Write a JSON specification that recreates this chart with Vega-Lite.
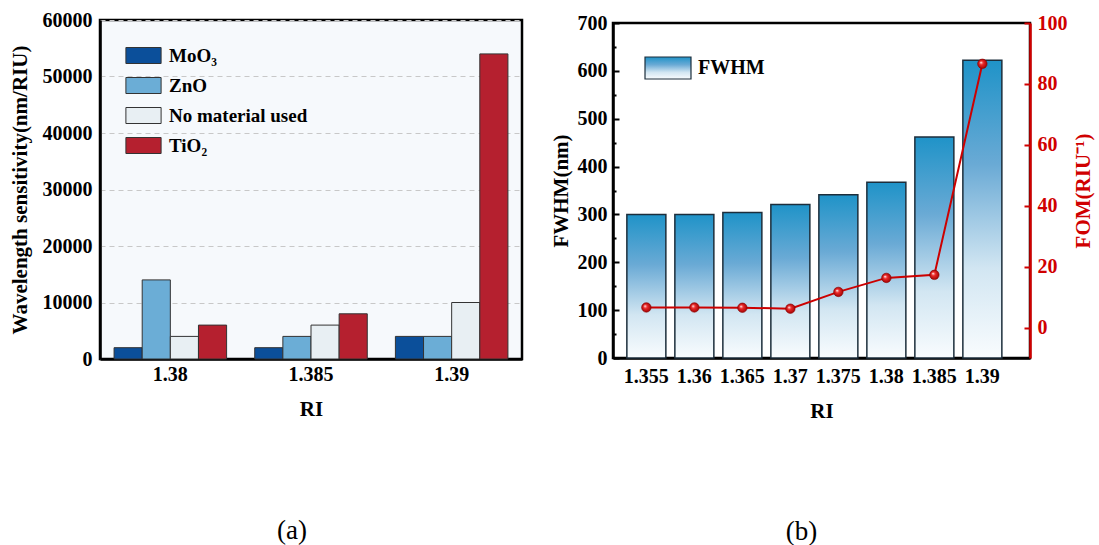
{
  "$schema": "https://vega.github.io/schema/vega-lite/v6.json",
  "padding": {"left": 7, "top": 8, "right": 0, "bottom": 0},
  "spacing": 24,
  "config": {
    "font": "Liberation Serif",
    "axis": {"labelFont": "Liberation Serif", "labelFontWeight": "bold", "labelFontSize": 20, "labelColor": "#000", "titleFont": "Liberation Serif", "titleFontWeight": "bold", "titleFontSize": 21, "titleColor": "#000", "domainColor": "#000", "domainWidth": 2.5, "tickColor": "#000", "tickWidth": 2, "grid": false},
    "legend": {"labelFont": "Liberation Serif", "labelFontWeight": "bold", "labelFontSize": 19, "labelColor": "#000", "padding": 0}
  },
  "hconcat": [
    {
      "width": 422,
      "height": 339,
      "title": {"text": "(a)", "orient": "bottom", "anchor": "middle", "frame": "group", "font": "Liberation Serif", "fontSize": 27, "fontWeight": "normal", "offset": 99, "dx": -19, "color": "#000"},
      "view": {"fill": "#f6f9fc", "stroke": "#000", "strokeWidth": 2.5},
      "data": {"values": [
        {"ri": "1.38", "material": "MoO₃", "value": 2000},
        {"ri": "1.38", "material": "ZnO", "value": 14000},
        {"ri": "1.38", "material": "No material used", "value": 4000},
        {"ri": "1.38", "material": "TiO₂", "value": 6000},
        {"ri": "1.385", "material": "MoO₃", "value": 2000},
        {"ri": "1.385", "material": "ZnO", "value": 4000},
        {"ri": "1.385", "material": "No material used", "value": 6000},
        {"ri": "1.385", "material": "TiO₂", "value": 8000},
        {"ri": "1.39", "material": "MoO₃", "value": 4000},
        {"ri": "1.39", "material": "ZnO", "value": 4000},
        {"ri": "1.39", "material": "No material used", "value": 10000},
        {"ri": "1.39", "material": "TiO₂", "value": 54000}
      ]},
      "mark": {"type": "bar", "stroke": "#333333", "strokeWidth": 1},
      "encoding": {
        "x": {"field": "ri", "type": "nominal", "sort": ["1.38", "1.385", "1.39"], "scale": {"paddingInner": 0.2, "paddingOuter": 0.1},
              "axis": {"title": "RI", "labelAngle": 0, "tickSize": -5, "labelPadding": 10, "titlePadding": 14}},
        "xOffset": {"field": "material", "type": "nominal", "sort": ["MoO₃", "ZnO", "No material used", "TiO₂"], "scale": {"paddingInner": 0, "paddingOuter": 0}},
        "y": {"field": "value", "type": "quantitative", "scale": {"domain": [0, 60000], "nice": false},
              "axis": {"title": "Wavelength sensitivity(nm/RIU)", "values": [0, 10000, 20000, 30000, 40000, 50000, 60000], "format": "d", "ticks": false, "labelPadding": 8, "titlePadding": 12, "grid": true, "gridDash": [5, 4], "gridColor": "#c8c8c8", "gridWidth": 1}},
        "fill": {"field": "material", "type": "nominal", "sort": ["MoO₃", "ZnO", "No material used", "TiO₂"],
                 "scale": {"domain": ["MoO₃", "ZnO", "No material used", "TiO₂"], "range": ["#0b4f9a", "#6badd6", "#e8eff3", "#b5202f"]},
                 "legend": {"title": null, "orient": "none", "legendX": 34, "legendY": 26, "symbolType": "M-2.2,-1H2.2V1H-2.2Z", "symbolSize": 256, "symbolStrokeColor": "#333333", "symbolStrokeWidth": 1, "labelOffset": 16, "rowPadding": 9}}
      }
    },
    {
      "spacing": -10,
      "vconcat": [
        {
          "width": 417,
          "height": 1,
          "data": {"values": [{}]},
          "mark": {"type": "rule", "opacity": 0},
          "encoding": {},
          "view": {"stroke": null}
        },
        {
          "width": 417,
          "height": 335,
          "title": {"text": "(b)", "orient": "bottom", "anchor": "middle", "frame": "group", "font": "Liberation Serif", "fontSize": 27, "fontWeight": "normal", "offset": 98, "dx": -20, "color": "#000"},
          "view": {"fill": "#ffffff", "stroke": "#000", "strokeWidth": 2.5},
          "data": {"values": [
            {"ri": "1.355", "fwhm": 300, "fom": 6.6},
            {"ri": "1.36", "fwhm": 300, "fom": 6.6},
            {"ri": "1.365", "fwhm": 304, "fom": 6.5},
            {"ri": "1.37", "fwhm": 321, "fom": 6.2},
            {"ri": "1.375", "fwhm": 341, "fom": 11.7},
            {"ri": "1.38", "fwhm": 367, "fom": 16.3},
            {"ri": "1.385", "fwhm": 462, "fom": 17.3},
            {"ri": "1.39", "fwhm": 622, "fom": 86.6}
          ]},
          "layer": [
            {
              "mark": {"type": "bar", "strokeWidth": 1.5,
                       "fill": {"gradient": "linear", "x1": 0, "y1": 0, "x2": 0, "y2": 1, "stops": [{"offset": 0, "color": "#1f93c8"}, {"offset": 0.35, "color": "#6aaad5"}, {"offset": 0.7, "color": "#d2e6f2"}, {"offset": 1, "color": "#f9fcfe"}]}},
              "encoding": {
                "x": {"field": "ri", "type": "ordinal", "sort": null, "scale": {"paddingInner": 0.1875, "paddingOuter": 0.4375, "align": 0.33},
                      "axis": {"title": "RI", "labelAngle": 0, "tickSize": -5, "labelPadding": 13, "titlePadding": 14}},
                "y": {"field": "fwhm", "type": "quantitative", "scale": {"domain": [0, 700], "nice": false},
                      "axis": {"title": "FWHM(nm)", "values": [0, 50, 100, 150, 200, 250, 300, 350, 400, 450, 500, 550, 600, 650, 700], "labelExpr": "datum.value % 100 === 0 ? datum.label : ''", "tickSize": {"condition": {"test": "datum.value % 100 === 0", "value": -6}, "value": -3}, "labelPadding": 12, "titlePadding": 6}},
                "stroke": {"datum": "FWHM", "type": "nominal",
                         "scale": {"range": ["#1c2e3c"]},
                         "legend": {"title": null, "orient": "none", "legendX": 556, "legendY": 36, "symbolType": "M-2.09,-1H2.09V1H-2.09Z", "symbolSize": 484, "symbolStrokeWidth": 1.2, "labelOffset": 18, "labelFontSize": 20,
                                    "encode": {"symbols": {"update": {"fill": {"value": {"gradient": "linear", "x1": 0, "y1": 0, "x2": 0, "y2": 1, "stops": [{"offset": 0, "color": "#3a9fcf"}, {"offset": 0.6, "color": "#cfe5f2"}, {"offset": 1, "color": "#ffffff"}]}}, "fillOpacity": {"value": 1}, "stroke": {"value": "#333333"}}}}}}
              }
            },
            {
              "layer": [
                {
                  "mark": {"type": "line", "color": "#cc0000", "strokeWidth": 2},
                  "encoding": {
                    "x": {"field": "ri", "type": "ordinal", "sort": null},
                    "y": {"field": "fom", "type": "quantitative", "scale": {"domain": [-10, 100], "nice": false},
                          "axis": {"orient": "right", "title": "FOM(RIU⁻¹)", "titleAngle": 270, "titleColor": "#d00000", "labelColor": "#d00000", "domainColor": "#d00000", "tickColor": "#d00000", "values": [0, 10, 20, 30, 40, 50, 60, 70, 80, 90, 100], "labelExpr": "datum.value % 20 === 0 ? datum.label : ''", "tickSize": {"condition": {"test": "datum.value % 20 === 0", "value": -6}, "value": -3}, "labelPadding": 13, "titlePadding": 26}}
                  }
                },
                {
                  "mark": {"type": "point", "filled": true, "size": 90, "opacity": 1, "stroke": "#8a0000", "strokeWidth": 0.6,
                           "fill": {"gradient": "radial", "x1": 0.35, "y1": 0.35, "r1": 0, "x2": 0.5, "y2": 0.5, "r2": 0.55, "stops": [{"offset": 0, "color": "#ffffff"}, {"offset": 0.35, "color": "#ee2a2a"}, {"offset": 1, "color": "#9a0000"}]}},
                  "encoding": {
                    "x": {"field": "ri", "type": "ordinal", "sort": null},
                    "y": {"field": "fom", "type": "quantitative"}
                  }
                }
              ]
            }
          ],
          "resolve": {"scale": {"y": "independent"}}
        }
      ]
    }
  ]
}
